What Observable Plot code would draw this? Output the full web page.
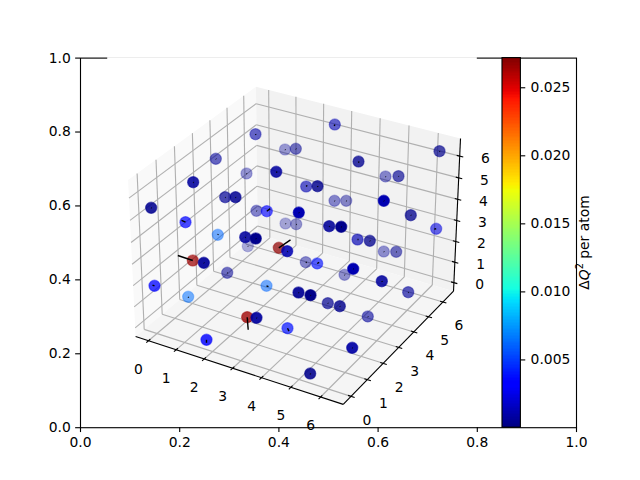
<!DOCTYPE html>
<html>
<head>
<meta charset="utf-8">
<style>html,body{margin:0;padding:0;background:#fff;overflow:hidden}</style>
<script src="https://cdn.jsdelivr.net/npm/d3@7"></script>
<script src="https://cdn.jsdelivr.net/npm/@observablehq/plot@0.6"></script>
</head>
<body>
<div id="chart"></div>
<script>
// Point positions read on the outer 0–1 axes, colour value and depth shade
const pointX = [.3528,.4123,.2728,.3347,.3946,.2272,.2917,.3125,.3548,.3756,.4133,.1425,.2117,.2768,.3321,.3534,.3373,.3998,.4167,.5127,.4341,.7238,.5605,.6149,.6411,.4550,.4778,.5121,.5357,.6115,.6659,.4401,.4349,.5014,.5256,.7171,.5585,.5833,.6115,.6365,.2264,.2486,.2958,.1492,.2171,.3750,.3361,.3548,.2540,.4173,.4542,.4772,.5323,.5498,.6075,.6607,.4395,.4637,.4986,.5228,.5792,.5478,.4631];
const pointY = [.7941,.7527,.7275,.6878,.6924,.6642,.6236,.6236,.5869,.5858,.5525,.5950,.5560,.5219,.5154,.5119,.4911,.4867,.4775,.8203,.7546,.7481,.7202,.6797,.6805,.6526,.6534,.6139,.6139,.6139,.5750,.5822,.5506,.5452,.5436,.5382,.5092,.5057,.4767,.4759,.4524,.4462,.4191,.3839,.3542,.3839,.2990,.2973,.2378,.2692,.4478,.4443,.4137,.4299,.3964,.3666,.3658,.3585,.3369,.3287,.3009,.2162,.1466];
const pointDQ = [.0009,.0006,.0006,.0006,.0007,.0007,.0005,.0004,.0006,.0032,.0006,.0004,.0035,.0062,.0007,.0003,.0006,.0268,.0012,.0012,.0004,.0003,.0004,.0006,.0004,.0012,.0003,.0006,.0004,.0012,.0003,.0012,.0004,.0006,.0003,.0022,.0012,.0003,.0006,.0004,.0265,.0006,.0005,.0035,.0064,.0062,.0265,.0007,.0032,.0038,.0005,.0038,.0005,.0012,.0007,.0006,.0005,.0002,.0004,.0003,.0006,.0009,.0003];
const pointShade = [.6,.38,.6,.4,.88,.88,.7,.85,.48,.65,.33,.88,.72,.55,.88,1,.31,.72,.88,.6,.55,.7,.78,.46,.65,.62,.82,.46,.46,1,.76,1,.4,.88,1,.6,.68,.76,.42,.56,.72,.93,.56,.76,.55,.55,.78,.93,.82,.7,.46,.66,.42,1,.88,.65,.93,1,.7,.82,.6,.93,.88];
const arrowX = [.001,.001,.001,.001,.002,.001,.001,.001,.001,.007,.001,.001,-.008,.001,.001,.001,.001,.0236,.001,-.001,.001,.001,.001,.001,.001,.002,.001,.001,.001,.001,.001,.001,.001,.001,.001,-.004,.002,.001,.001,.001,-.0302,.001,.001,-.004,.001,.004,.002,.001,0,.003,.002,.004,.001,.001,.001,.001,.001,.001,.001,.001,.001,.001,.001];
const arrowY = [-.002,-.001,-.001,-.001,-.002,-.001,-.001,-.001,-.001,.007,-.001,-.001,.005,.002,-.001,-.001,-.001,.0216,-.001,-.004,-.001,-.001,-.003,-.001,-.001,.003,-.002,-.001,-.001,-.001,-.001,-.001,-.001,-.001,-.001,-.001,0,-.001,-.001,-.001,.0135,-.001,-.001,.002,-.002,-.002,-.034,-.001,-.008,-.008,-.001,.003,-.001,-.001,-.002,-.001,-.001,-.001,-.001,-.001,-.001,-.001,-.002];

// Tick values
const outerTicks = [0, .2, .4, .6, .8, 1];
const latticeTicks = [0, 1, 2, 3, 4, 5, 6];
const barTicks = [.005, .01, .015, .02, .025];
const barLabel = "ΔQ² per atom";

// Limits of the 3D box and of the colour bar
const boxMin = [-.47, -.47, -.42], boxMax = [6.75, 6.75, 6.8];
const dqMin = .00002, dqMax = .02718;

// Jet colormap anchors
const jetStops = [0,.11,.125,.34,.35,.375,.64,.65,.66,.89,.91,1];
const jetColors = ["rgb(0,0,128)","rgb(0,0,255)","rgb(0,0,255)","rgb(0,219,255)","rgb(0,230,247)","rgb(21,255,226)","rgb(239,255,8)","rgb(247,246,0)","rgb(255,236,0)","rgb(255,19,0)","rgb(232,0,0)","rgb(128,0,0)"];

// matplotlib-style mplot3d view: elev 30, azim -60, box aspect 4:4:3
const boxAspect = [4, 4, 3].map(v => v * 1.8294640721620434 * 25 / 24 / Math.hypot(4, 4, 3));
const viewU = [.8660254, .5, 0], viewV = [-.25, .4330127, .8660254], viewW = [.4330127, -.75, .5];
const dot3 = (a, b) => a[0]*b[0] + a[1]*b[1] + a[2]*b[2];
const boxFracX = v => (107.2 - 80 + v * 369.6) / 496; // 3D axes box within the outer axes
function proj(x, y, z) {
  const d = [x, y, z].map((v, i) => ((v - boxMin[i]) / (boxMax[i] - boxMin[i]) - .5) * boxAspect[i]);
  const s = 10 - dot3(d, viewW);
  return [boxFracX((dot3(d, viewU) / s + .095) / .185), (dot3(d, viewV) / s + .095) / .185];
}
const [x0, y0, z0] = boxMin, [x1, y1, z1] = boxMax;
const segment = (a, b) => { const p = proj(...a), q = proj(...b); return {x1: p[0], y1: p[1], x2: q[0], y2: q[1]}; };

const paneLeft = [[x0,y0,z0],[x0,y1,z0],[x0,y1,z1],[x0,y0,z1]].map(p => proj(...p));
const paneBack = [[x0,y1,z0],[x1,y1,z0],[x1,y1,z1],[x0,y1,z1]].map(p => proj(...p));
const paneFloor = [[x0,y0,z0],[x1,y0,z0],[x1,y1,z0],[x0,y1,z0]].map(p => proj(...p));

const gridLines = latticeTicks.flatMap(t => [
  segment([t,y0,z0],[t,y1,z0]), segment([t,y1,z0],[t,y1,z1]),
  segment([x0,t,z0],[x1,t,z0]), segment([x0,t,z0],[x0,t,z1]),
  segment([x0,y0,t],[x0,y1,t]), segment([x0,y1,t],[x1,y1,t])
]);
const edgeLines = [
  segment([x0,y0,z0],[x1,y0,z0]), segment([x1,y0,z0],[x1,y1,z0]), segment([x1,y1,z0],[x1,y1,z1])
];
const tickLines = latticeTicks.flatMap(t => [
  segment([t,y0-.12,z0],[t,y0+.1,z0]),
  segment([x1-.1,t,z0],[x1+.12,t,z0]),
  segment([x1-.1,y1,t],[x1+.12,y1,t])
]);
const labelsOf = (f, dx, dy) => latticeTicks.map(t => { const p = proj(...f(t)); return {x: p[0] + dx / 496, y: p[1] - dy / 369.6, text: String(t)}; });
const tickText = [
  ...labelsOf(t => [t,y0,z0], -10, 28.5),
  ...labelsOf(t => [x1,t,z0], 16, 24),
  ...labelsOf(t => [x1,y1,t], 25.7, 2.3)
];

const points = pointX.map((x, i) => ({x, y: pointY[i], dq: pointDQ[i], shade: pointShade[i], edge: pointShade[i] * .6, x2: x + arrowX[i], y2: pointY[i] + arrowY[i]}));

// Colour bar
const barFrac = dq => (dq - dqMin) / (dqMax - dqMin);
const barLeft = .8508, barRight = .8879;
const barCells = d3.range(256).map(i => {
  const a = dqMin + (dqMax - dqMin) * i / 256, b = dqMin + (dqMax - dqMin) * (i + 1) / 256;
  return {y1: barFrac(a), y2: barFrac(b), dq: (a + b) / 2};
});

const font = "DejaVu Sans";
const fs = 13.89;

const chart = Plot.plot({
  width: 640, height: 480,
  marginLeft: 80, marginRight: 64, marginTop: 57.6, marginBottom: 52.8,
  style: {fontFamily: font, fontSize: fs + "px", background: "#fff", color: "#000", overflow: "visible"},
  x: {domain: [0, 1]},
  y: {domain: [0, 1]},
  color: {type: "linear", domain: jetStops.map(t => dqMin + t * (dqMax - dqMin)), range: jetColors},
  opacity: {type: "identity"},
  marks: [
    Plot.axisX({ticks: outerTicks, tickFormat: ".1f", tickSize: 4.86, tickPadding: 4.86, fontSize: fs, label: null, strokeWidth: 1.11, stroke: "#000"}),
    Plot.axisY({ticks: outerTicks, tickFormat: ".1f", tickSize: 4.86, tickPadding: 4.86, fontSize: fs, label: null, strokeWidth: 1.11, stroke: "#000"}),
    Plot.frame({stroke: "#000", strokeWidth: 1.11}),
    // white background of the 3D axes
    Plot.rect([0], {x1: boxFracX(0), x2: boxFracX(1), y1: .0015, y2: 1.0012, fill: "#fff", stroke: "none"}),
    Plot.line(paneLeft, {x: "0", y: "1", fill: "#f9f9f9", stroke: "none"}),
    Plot.line(paneBack, {x: "0", y: "1", fill: "#f2f2f2", stroke: "none"}),
    Plot.line(paneFloor, {x: "0", y: "1", fill: "#f5f5f5", stroke: "none"}),
    Plot.link(gridLines, {x1: "x1", y1: "y1", x2: "x2", y2: "y2", stroke: "#b0b0b0", strokeWidth: 1.11, strokeOpacity: 1}),
    Plot.link(edgeLines, {x1: "x1", y1: "y1", x2: "x2", y2: "y2", stroke: "#000", strokeWidth: 1.11, strokeOpacity: 1}),
    Plot.link(tickLines, {x1: "x1", y1: "y1", x2: "x2", y2: "y2", stroke: "#000", strokeWidth: 1.11, strokeOpacity: 1}),
    Plot.text(tickText, {x: "x", y: "y", text: "text", fontSize: fs, fill: "#000", textAnchor: "middle", lineAnchor: "middle"}),
    Plot.dot(points, {x: "x", y: "y", r: 5.6, fill: "dq", stroke: "dq", strokeWidth: 1.2, fillOpacity: "shade", strokeOpacity: "edge", sort: {channel: "fillOpacity"}}),
    Plot.link(points, {x1: "x", y1: "y", x2: "x2", y2: "y2", stroke: "#000", strokeWidth: 1.4, strokeOpacity: 1}),
    // colour bar
    Plot.rect(barCells, {x1: barLeft, x2: barRight, y1: "y1", y2: "y2", fill: "dq", shapeRendering: "crispEdges"}),
    Plot.rect([0], {x1: barLeft, x2: barRight, y1: 0, y2: 1, fill: "none", stroke: "#000", strokeWidth: 1.11}),
    Plot.ruleY(barTicks, {y: barFrac, x1: barRight, x2: barRight + .0098, stroke: "#000", strokeWidth: 1.11}),
    Plot.text(barTicks, {y: barFrac, x: barRight + .0195, text: d => d3.format(".3f")(d), fontSize: fs, fill: "#000", textAnchor: "start", lineAnchor: "middle"}),
    Plot.text([barLabel], {x: 1.016, y: .501, text: d => d, rotate: -90, fontSize: fs, fill: "#000", textAnchor: "middle", lineAnchor: "middle"})
  ]
});
// Set the colour bar label as the reference does: italic Q, raised 2
d3.select(chart).selectAll("text").filter(function () { return this.textContent === barLabel; }).each(function () {
  const t = d3.select(this).text("Δ");
  t.append("tspan").attr("font-style", "italic").text("Q");
  t.append("tspan").attr("dy", -5.5).attr("font-size", 9.7).text("2");
  t.append("tspan").attr("dy", 5.5).text(" per atom");
});
document.getElementById("chart").appendChild(chart);
</script>
</body>
</html>
